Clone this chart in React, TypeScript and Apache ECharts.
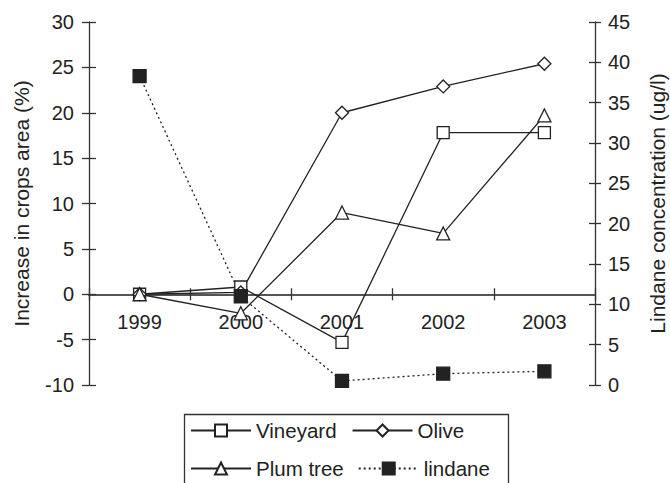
import React, { useEffect, useRef } from 'react';
import * as echarts from 'echarts';

const years = ['1999', '2000', '2001', '2002', '2003'];
const vineyard = [0, 0.8, -5.3, 17.8, 17.8];
const olive = [0, 0.2, 20.0, 22.9, 25.4];
const plumTree = [0, -2.1, 9.0, 6.7, 19.7];
const lindane = [38.3, 11.0, 0.5, 1.4, 1.7];

const FONT = "'Liberation Sans', Arial, sans-serif";
const INK = '#222';

export default function App() {
  const ref = useRef<HTMLDivElement>(null);
  useEffect(() => {
    if (!ref.current) return;
    const chart = echarts.init(ref.current, undefined, { renderer: 'svg' });
    const axisLine = { lineStyle: { color: '#333', width: 1.3 } };
    const label = { color: INK, fontSize: 20, fontFamily: FONT };
    const lineSeries = (name: string, data: number[], symbol: string, size: number, yAxisIndex = 0, dashed = false, filled = false) => ({
      name,
      type: 'line',
      data,
      yAxisIndex,
      symbol,
      symbolSize: size,
      lineStyle: { color: INK, width: 1.3, type: dashed ? [2, 3] : 'solid' },
      itemStyle: { color: filled ? INK : '#fff', borderColor: INK, borderWidth: 1.3 },
      emphasis: { disabled: true },
    });
    chart.setOption({
      animation: false,
      grid: { left: 89, right: 75, top: 22, bottom: 98, containLabel: false, outerBoundsMode: 'none' },
      xAxis: [
        {
          type: 'category',
          data: years,
          boundaryGap: true,
          axisLine: { onZero: true, onZeroAxisIndex: 0, lineStyle: { color: '#555', width: 1.8 } },
          axisTick: { show: true, length: 6, lineStyle: { color: '#333', width: 1.3 } },
          axisLabel: { show: false },
          splitLine: { show: false },
        },
        {
          type: 'category',
          data: years,
          boundaryGap: true,
          position: 'bottom',
          axisLine: { onZero: true, onZeroAxisIndex: 0, lineStyle: { color: '#555', width: 1.8 } },
          axisTick: { show: true, inside: true, length: 6, lineStyle: { color: '#333', width: 1.3 } },
          axisLabel: { show: false },
          splitLine: { show: false },
        },
        {
          type: 'category',
          data: years,
          boundaryGap: true,
          position: 'bottom',
          offset: -90.75,
          axisLine: { show: false, onZero: false },
          axisTick: { show: false },
          axisLabel: { ...label, margin: 18 },
          splitLine: { show: false },
        },
      ],
      yAxis: [
        {
          type: 'value', position: 'left', min: -10, max: 30, interval: 5,
          axisLine: { show: true, ...axisLine },
          axisTick: { show: true, length: 7, lineStyle: { color: '#333', width: 1.3 } },
          axisLabel: { ...label, margin: 15 },
          splitLine: { show: false },
          name: 'Increase in crops area (%)', nameLocation: 'middle', nameGap: 57,
          nameTextStyle: { color: INK, fontSize: 21, fontFamily: FONT },
        },
        {
          type: 'value', position: 'right', min: 0, max: 45, interval: 5,
          axisLine: { show: true, ...axisLine },
          axisTick: { show: true, length: 6, lineStyle: { color: '#333', width: 1.3 } },
          axisLabel: { ...label, margin: 13 },
          splitLine: { show: false },
          name: 'Lindane concentration (ug/l)', nameLocation: 'middle', nameGap: 52, nameRotate: 90,
          nameTextStyle: { color: INK, fontSize: 21, fontFamily: FONT },
        },
        {
          type: 'value', position: 'left', min: -10, max: 30, interval: 5,
          axisLine: { show: false },
          axisTick: { show: true, inside: true, length: 7, lineStyle: { color: '#333', width: 1.3 } },
          axisLabel: { show: false },
          splitLine: { show: false },
        },
        {
          type: 'value', position: 'right', min: 0, max: 45, interval: 5,
          axisLine: { show: false },
          axisTick: { show: true, inside: true, length: 6, lineStyle: { color: '#333', width: 1.3 } },
          axisLabel: { show: false },
          splitLine: { show: false },
        },
      ],
      legend: [
        {
          data: ['Vineyard', 'Olive'], left: 190, top: 420, padding: 0,
          itemWidth: 60, itemHeight: 15, itemGap: 15, selectedMode: false,
          textStyle: { color: INK, fontSize: 20.5, fontFamily: FONT },
        },
        {
          data: ['Plum tree', 'lindane'], left: 190, top: 458, padding: 0,
          itemWidth: 60, itemHeight: 15, itemGap: 14, selectedMode: false,
          textStyle: { color: INK, fontSize: 20.5, fontFamily: FONT },
        },
      ],
      graphic: [
        {
          type: 'rect', left: 182, top: 412, silent: true,
          shape: { width: 324, height: 90 },
          style: { fill: 'none', stroke: '#333', lineWidth: 1.3 },
        },
      ],
      series: [
        lineSeries('Vineyard', vineyard, 'rect', 12),
        lineSeries('Olive', olive, 'diamond', 13),
        lineSeries('Plum tree', plumTree, 'triangle', 13),
        lineSeries('lindane', lindane, 'rect', 13, 1, true, true),
      ],
    });
    return () => chart.dispose();
  }, []);
  return <div ref={ref} style={{ position: 'fixed', left: 0, top: 0, width: 670, height: 483, background: '#fff' }} />;
}
